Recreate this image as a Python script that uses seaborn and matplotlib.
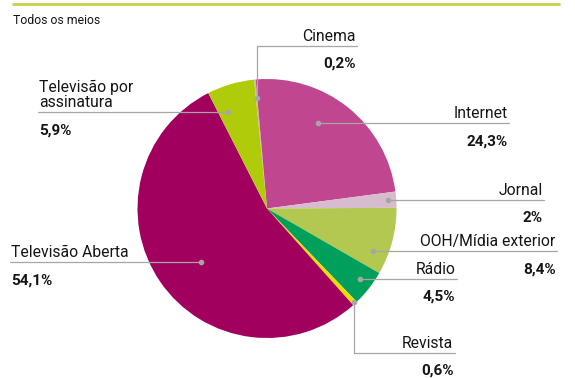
import numpy as np
import matplotlib.pyplot as plt
import seaborn as sns

sns.set_theme(style='white')
plt.rcParams['font.family'] = ['Roboto', 'DejaVu Sans']

# dados: participação de cada meio (%)
meios = ['Cinema', 'Internet', 'Jornal', 'OOH/Mídia exterior', 'Rádio',
         'Revista', 'Televisão Aberta', 'Televisão por\nassinatura']
share = [0.2, 24.3, 2.0, 8.4, 4.5, 0.6, 54.1, 5.9]
share_txt = ['0,2%', '24,3%', '2%', '8,4%', '4,5%', '0,6%', '54,1%', '5,9%']
cores = ['#c9b8c9', '#c0468f', '#d7bbcf', '#b3c851', '#00a05c',
         '#f2dc00', '#a1005e', '#afcb0a']

W, H = 575, 378
CX, CY, R = 267, 208.5, 129.5
cinza = '#a6a6a6'


def px(x, y):
    # pixel da imagem -> coordenadas do eixo (raio da pizza = 1)
    return (x - CX) / R, (CY - y) / R


fig = plt.figure(figsize=(W / 100, H / 100), dpi=100)
ax = fig.add_axes([0, 0, 1, 1])

wedges, _ = ax.pie(share, colors=cores, startangle=95 + 3.6 * share[0],
                   counterclock=False, radius=1,
                   wedgeprops=dict(linewidth=0))

# (posição no arco, fração do raio, lado, x final da linha, y do cotovelo)
chamadas = [
    (0.5, 0.86, 'r', 357, 45.7),
    (0.59, 0.765, 'r', 509, None),
    (0.54, 0.94, 'r', 544, None),
    (0.26, 0.88, 'r', 557, None),
    (0.56, 0.90, 'r', 457, None),
    (0.6, 0.99, 'r', 455, 353),
    (0.524, 0.66, 'l', 10, None),
    (0.77, 0.80, 'l', 38, None),
]

for w, nome, val, (t, rf, lado, xend, ycot) in zip(wedges, meios, share_txt, chamadas):
    ang = np.deg2rad(w.theta1 + t * (w.theta2 - w.theta1))
    dx, dy = rf * np.cos(ang), rf * np.sin(ang)
    ax.plot(dx, dy, 'o', ms=3, color=cinza, zorder=5)
    if ycot is not None:
        _, yc = px(0, ycot)
        ax.plot([dx, dx], [dy, yc], color=cinza, lw=0.9)
        ly = yc
    else:
        ly = dy
    xe, _ = px(xend, 0)
    ax.plot([dx, xe], [ly, ly], color=cinza, lw=0.9)
    line_px = CY - ly * R
    if lado == 'r':
        tx, ha = px(xend - 1.5, 0)[0], 'right'
    else:
        tx, ha = px(xend + 1, 0)[0], 'left'
    ax.text(tx, px(0, line_px - 5)[1], nome, ha=ha, va='baseline',
            fontsize=11.3, color='#151515', linespacing=1.0)
    ax.text(tx, px(0, line_px + 22)[1], val, ha=ha, va='baseline',
            fontsize=11, fontweight='bold', color='#151515')

# título e fio superior
ax.text(*px(13, 24), 'Todos os meios', ha='left', va='baseline',
        fontsize=8.8, color='#151515')
x0, y0 = px(13, 4.4)
x1, _ = px(559, 4.4)
ax.plot([x0, x1], [y0, y0], color='#c8d34a', lw=2)

xa, ya = px(0, H)
xb, yb = px(W, 0)
ax.set_xlim(xa, xb)
ax.set_ylim(ya, yb)
ax.set_aspect('auto')
ax.axis('off')

fig.savefig('out.png', dpi=100)
